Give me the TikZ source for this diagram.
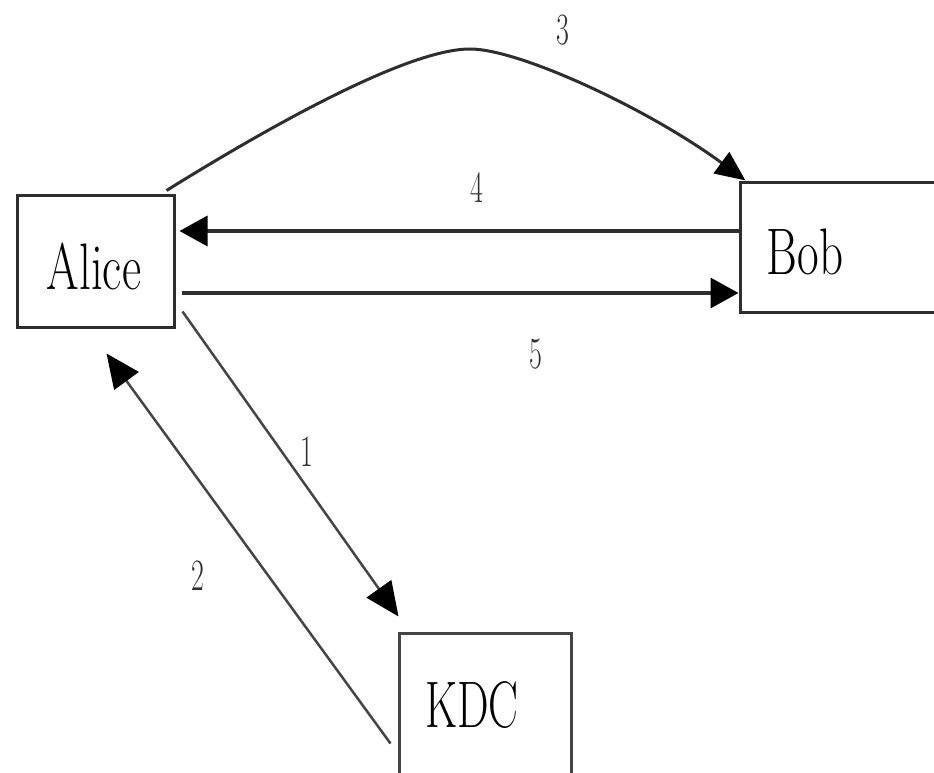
\documentclass[tikz,border=0pt]{standalone}
\usetikzlibrary{arrows.meta}
\definecolor{ink}{HTML}{2E2E2E}
\definecolor{thin}{HTML}{454545}
\tikzset{
  entitybox/.style={draw=ink, line width=3pt, inner sep=0pt, fill=white},
  entitytext/.style={inner sep=0pt, font=\rmfamily\fontsize{47}{50}\selectfont},
  steplabel/.style={inner sep=0pt, text=ink, font=\rmfamily\fontsize{28}{30}\selectfont},
  straightarrow/.style={draw=ink, line width=3.5pt, -{Triangle[length=28pt,width=30pt,color=black]}},
  diagarrow/.style={draw=thin, line width=2.5pt, -{Triangle[length=34pt,width=30pt,color=black]}},
  curvearrow/.style={draw=ink, line width=3pt, -{Triangle[length=30pt,width=26pt,color=black]}}
}
\begin{document}
\begin{tikzpicture}[x=1pt,y=-1pt]
\useasboundingbox (0,0) rectangle (934,773);
\clip (0,0) rectangle (934,773);
\fill[white] (0,0) rectangle (934,773);
% boxes
\node[entitybox, minimum width=157pt, minimum height=132pt] (alice) at (95.5,261) {};
\node[entitybox, minimum width=230pt, minimum height=130pt] (bob) at (855,247) {};
\node[entitybox, draw=thin, minimum width=172pt, minimum height=174pt] (kdc) at (485,720) {};
% box texts
\node[entitytext] (alicetext) at (94,267) {\scalebox{1}[1.4]{Alice}};
\node[entitytext] (bobtext) at (805,252) {\scalebox{1}[1.4]{Bob}};
\node[entitytext] (kdctext) at (472,705) {\scalebox{0.95}[1.4]{KDC}};
% connectors
\coordinate (peak) at (470,49);
\draw[curvearrow] ([xshift=-9pt,yshift=3pt]alice.north east) .. controls (280,120) and (410,49) .. (peak) .. controls (520,49) and (650,110) .. ([xshift=7pt]bob.north west);
\draw[straightarrow] ([yshift=16pt]bob.west) -- ([xshift=4pt,yshift=30pt]alice.east);
\draw[straightarrow] ([xshift=6pt,yshift=-32pt]alice.east) -- ([yshift=-46pt]bob.west);
\draw[diagarrow] ([xshift=7pt,yshift=17pt]alice.south east) -- ([xshift=1pt,yshift=15pt]kdc.north west);
\draw[diagarrow] ([xshift=-7pt,yshift=-112pt]kdc.north west) -- ([xshift=91pt,yshift=-25pt]alice.south west);
% labels
\node[steplabel] (l3) at (563,30) {\scalebox{1}[1.6]{3}};
\node[steplabel] (l4) at (477,188) {\scalebox{1}[1.6]{4}};
\node[steplabel] (l5) at (536,354) {\scalebox{1}[1.6]{5}};
\node[steplabel] (l1) at (307,452) {\scalebox{1}[1.6]{1}};
\node[steplabel] (l2) at (198,576) {\scalebox{1}[1.6]{2}};
\end{tikzpicture}
\end{document}
